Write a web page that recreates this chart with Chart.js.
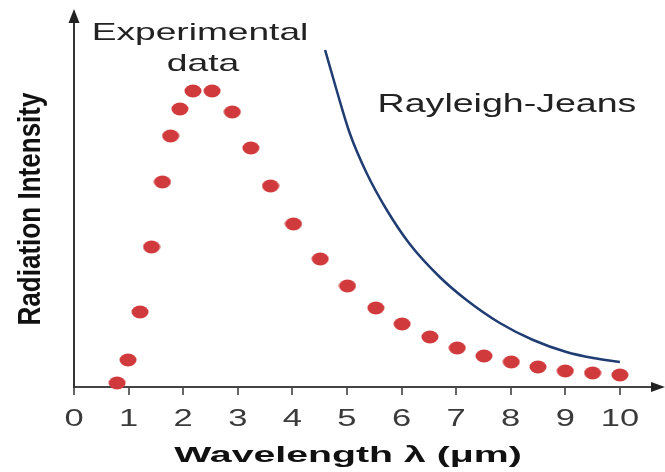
<!DOCTYPE html>
<html>
<head>
<meta charset="utf-8">
<script src="https://cdn.jsdelivr.net/npm/chart.js@4/dist/chart.umd.min.js"></script>
<style>
  html,body{margin:0;padding:0;background:#fff}
  #wrap{width:665px;height:472px}
</style>
</head>
<body>
<div id="wrap"><canvas id="c"></canvas></div>
<script>
// experimental points (wavelength in µm, intensity in arbitrary units)
const wavelength = [0.79,0.99,1.21,1.42,1.62,1.77,1.94,2.18,2.53,2.90,3.24,3.60,4.02,4.51,5.01,5.53,6.01,6.52,7.02,7.51,8.01,8.50,9.00,9.50,10.0];
const intensity  = [4,27,75,140,205,251,278,296,296,275,239,201,163,128,101,79,63,50,39,31,25,20,16,14,12];
// Rayleigh-Jeans curve
const rjLambda    = [4.60,4.81,5.05,5.36,5.73,6.15,6.70,7.19,7.80,8.41,9.02,9.51,10.0];
const rjIntensity = [337,297,254,214,177,143,110,87,64,47,35,29,25];
const xTicks = [0,1,2,3,4,5,6,7,8,9,10];
const xTickLabels = ['0','1','2','3','4','5','6','7','8','9','10'];

const FAM = '"Liberation Sans", Arial, sans-serif';

// squashed dot like in the picture
function dotImg(){
  const c=document.createElement('canvas'); c.width=18; c.height=14;
  const g=c.getContext('2d');
  g.fillStyle='#d13a3c';
  g.beginPath(); g.ellipse(9,7,8.5,6.5,0,0,Math.PI*2); g.fill();
  return c;
}

function fitText(ctx, str, x, y, font, targetW, rotate){
  ctx.save();
  ctx.font=font;
  const m=ctx.measureText(str);
  const ink=m.actualBoundingBoxLeft+m.actualBoundingBoxRight;
  const s=targetW/ink;
  ctx.translate(x,y);
  if(rotate) ctx.rotate(-Math.PI/2);
  ctx.scale(s,1);
  ctx.textAlign='center'; ctx.textBaseline='alphabetic';
  ctx.fillText(str,0,0);
  ctx.restore();
}

const decor={
  id:'decor',
  afterDraw(chart){
    const ctx=chart.ctx, a=chart.chartArea, xs=chart.scales.x;
    ctx.save();
    // arrow heads
    ctx.fillStyle='#222';
    ctx.beginPath(); ctx.moveTo(a.left-5.5,a.top); ctx.lineTo(a.left,a.top-14); ctx.lineTo(a.left+5.5,a.top); ctx.closePath(); ctx.fill();
    ctx.beginPath(); ctx.moveTo(a.right,a.bottom-5); ctx.lineTo(a.right+14,a.bottom); ctx.lineTo(a.right,a.bottom+5); ctx.closePath(); ctx.fill();
    // tick labels, stretched like the source
    ctx.fillStyle='#3a3a3a';
    ctx.font='23px '+FAM; ctx.textAlign='center'; ctx.textBaseline='alphabetic';
    xTicks.forEach((v,i)=>{
      const px=xs.getPixelForValue(v);
      ctx.save(); ctx.translate(px,426); ctx.scale(1.5,1); ctx.fillText(xTickLabels[i],0,0); ctx.restore();
    });
    // texts
    ctx.fillStyle='#222';
    fitText(ctx,'Experimental',200,40,'24px '+FAM,213);
    fitText(ctx,'data',203,71,'24px '+FAM,72);
    fitText(ctx,'Rayleigh-Jeans',507,112,'25px '+FAM,255);
    ctx.fillStyle='#111';
    fitText(ctx,'Wavelength \u03bb (\u03bcm)',348,462,'bold 22px '+FAM,347);
    fitText(ctx,'Radiation Intensity',40,209,'bold 31px '+FAM,232,true);
    ctx.restore();
  }
};

new Chart(document.getElementById('c'),{
  type:'scatter',
  data:{datasets:[
    {label:'Experimental data', data:wavelength.map((x,i)=>({x,y:intensity[i]})),
     pointStyle:dotImg(), pointRadius:8, clip:false},
    {label:'Rayleigh-Jeans', data:rjLambda.map((x,i)=>({x,y:rjIntensity[i]})),
     showLine:true, borderColor:'#1f3c73', borderWidth:2.5, pointRadius:0,
     cubicInterpolationMode:'monotone', fill:false, clip:false}
  ]},
  options:{
    responsive:true, maintainAspectRatio:false, animation:false,
    layout:{padding:{top:23,right:14,left:0,bottom:0}},
    plugins:{legend:{display:false}, tooltip:{enabled:false}},
    scales:{
      x:{type:'linear', min:0, max:10.57,
         afterBuildTicks:s=>{ s.ticks=xTicks.map(v=>({value:v})); },
         afterFit:s=>{ s.height=85; },
         ticks:{display:false},
         grid:{drawOnChartArea:false, drawTicks:true, tickLength:8, color:'#666', lineWidth:2},
         border:{display:true, color:'#444', width:2}},
      y:{type:'linear', min:0, max:364,
         afterFit:s=>{ s.width=74; },
         ticks:{display:false},
         grid:{display:false, drawTicks:false},
         border:{display:true, color:'#333', width:2}}
    }
  },
  plugins:[decor]
});
</script>
</body>
</html>
